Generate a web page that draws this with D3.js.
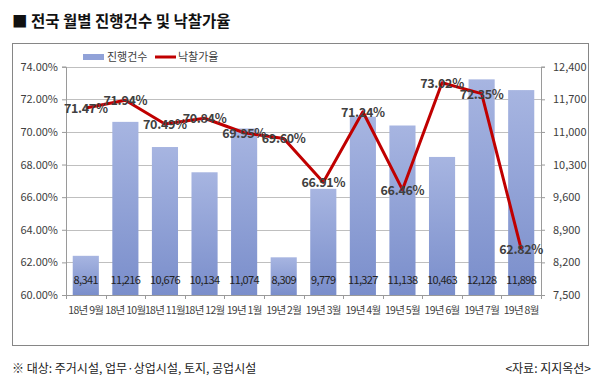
<!DOCTYPE html>
<html><head><meta charset="utf-8">
<script src="https://cdn.jsdelivr.net/npm/d3@7"></script>
<style>body{margin:0;background:#fff}svg{display:block}text{font-family:"Noto Sans CJK KR","Noto Sans",sans-serif}</style>
</head><body><svg id="c" width="600" height="384"></svg>
<script>
const categories=["18년 9월","18년 10월","18년 11월","18년 12월","19년 1월","19년 2월","19년 3월","19년 4월","19년 5월","19년 6월","19년 7월","19년 8월"];
const counts=[8341,11216,10676,10134,11074,8309,9779,11327,11138,10463,12128,11898];
const rates=[71.47,71.94,70.49,70.84,69.95,69.60,66.91,71.24,66.46,73.02,72.35,62.82];
const leftTicks=[60,62,64,66,68,70,72,74];
const rightTicks=[7500,8200,8900,9600,10300,11000,11700,12400];

const svg=d3.select("#c");
const L=66,R=541,T=66.7,B=295;
const x=d3.scaleBand().domain(categories).range([L,R]).paddingInner(0.34).paddingOuter(0.17);
const yL=d3.scaleLinear().domain([60,74]).range([B,T]);
const yR=d3.scaleLinear().domain([7500,12400]).range([B,T]);

const defs=svg.append("defs");
const g=defs.append("linearGradient").attr("id","bg").attr("x1",0).attr("y1",0).attr("x2",0).attr("y2",1);
g.append("stop").attr("offset","0%").attr("stop-color","#a7b5e1");
g.append("stop").attr("offset","100%").attr("stop-color","#7a8ecb");

// title
svg.append("text").attr("x",12).attr("y",27).attr("font-size",15.5).attr("font-weight","bold").attr("fill","#111").text("■ 전국 월별 진행건수 및 낙찰가율");
// border
svg.append("rect").attr("x",12.5).attr("y",43.5).attr("width",576).attr("height",302).attr("fill","none").attr("stroke","#868686");

// gridlines
svg.append("g").selectAll("line").data(leftTicks).join("line")
 .attr("x1",L).attr("x2",R).attr("y1",d=>Math.round(yL(d))+0.5).attr("y2",d=>Math.round(yL(d))+0.5)
 .attr("stroke","#bfbfbf");

// axes
const axL=svg.append("g").attr("transform",`translate(${L},0)`).call(d3.axisLeft(yL).tickValues(leftTicks).tickFormat(d=>d.toFixed(2)+"%").tickSize(4).tickPadding(4));
const axR=svg.append("g").attr("transform",`translate(${R},0)`).call(d3.axisRight(yR).tickValues(rightTicks).tickFormat(d3.format(",")).tickSize(4).tickPadding(8));
const axB=svg.append("g").attr("transform",`translate(0,${B})`).call(d3.axisBottom(x).tickSize(0).tickPadding(12));
[axL,axR,axB].forEach(a=>{a.selectAll("path,line").attr("stroke","#9a9a9a");a.selectAll("text").attr("font-size",11).attr("fill","#404040").attr("font-family",'"Noto Sans CJK KR",sans-serif');});
axB.selectAll("text").attr("font-size",10.5).attr("letter-spacing","-0.7");
axB.select("path").remove();
svg.append("line").attr("x1",L).attr("x2",R).attr("y1",B+0.5).attr("y2",B+0.5).attr("stroke","#9a9a9a");
// category separator ticks
svg.append("g").selectAll("line").data(d3.range(categories.length+1)).join("line")
 .attr("x1",i=>Math.round(L+i*(R-L)/categories.length)+0.5).attr("x2",i=>Math.round(L+i*(R-L)/categories.length)+0.5)
 .attr("y1",B).attr("y2",B+4).attr("stroke","#9a9a9a");

// bars
svg.append("g").selectAll("rect").data(counts).join("rect")
 .attr("x",(d,i)=>x(categories[i])).attr("width",x.bandwidth())
 .attr("y",d=>yR(d)).attr("height",d=>B-yR(d)).attr("fill","url(#bg)");
svg.append("g").selectAll("text").data(counts).join("text")
 .attr("x",(d,i)=>x(categories[i])+x.bandwidth()/2).attr("y",284).attr("text-anchor","middle")
 .attr("font-size",11).attr("fill","#222").attr("letter-spacing","-0.6").text(d=>d3.format(",")(d));

// line
const line=d3.line().x((d,i)=>x(categories[i])+x.bandwidth()/2).y(d=>yL(d));
svg.append("path").datum(rates).attr("d",line).attr("fill","none").attr("stroke","#c00000").attr("stroke-width",3).attr("stroke-linejoin","round");
svg.append("g").selectAll("text").data(rates).join("text")
 .attr("x",(d,i)=>x(categories[i])+x.bandwidth()/2).attr("y",d=>yL(d)+5).attr("text-anchor","middle")
 .attr("font-size",12.5).attr("font-weight","bold").attr("fill","#404040").attr("letter-spacing","-0.3").text(d=>d.toFixed(2)+"%");

// legend
svg.append("rect").attr("x",83).attr("y",54).attr("width",21).attr("height",6).attr("fill","#91a2d8");
svg.append("text").attr("x",107).attr("y",61).attr("font-size",11).attr("fill","#404040").text("진행건수");
svg.append("line").attr("x1",155).attr("x2",176).attr("y1",57).attr("y2",57).attr("stroke","#c00000").attr("stroke-width",3);
svg.append("text").attr("x",178).attr("y",61).attr("font-size",11).attr("fill","#404040").text("낙찰가율");

// footer
svg.append("text").attr("x",12).attr("y",373).attr("font-size",12).attr("fill","#222").text("※ 대상: 주거시설, 업무·상업시설, 토지, 공업시설");
svg.append("text").attr("x",591).attr("y",373).attr("text-anchor","end").attr("font-size",12).attr("fill","#222").text("<자료: 지지옥션>");
</script></body></html>
